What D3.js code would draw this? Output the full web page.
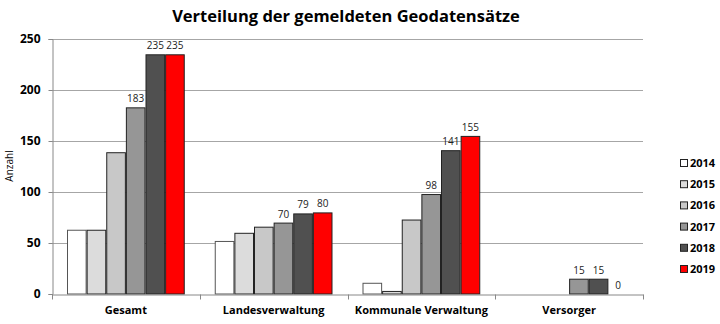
<!DOCTYPE html>
<html><head><meta charset="utf-8">
<script src="https://cdn.jsdelivr.net/npm/d3@7"></script>
<style>body{margin:0;background:#fff}svg{display:block}</style>
</head><body><svg id="c" width="720" height="324"></svg>
<script>
const categories = ["Gesamt", "Landesverwaltung", "Kommunale Verwaltung", "Versorger"];
const years = ["2014", "2015", "2016", "2017", "2018", "2019"];
const v2014 = [63, 52, 11, 0];
const v2015 = [63, 60, 3, 0];
const v2016 = [139, 66, 73, 0];
const v2017 = [183, 70, 98, 15];
const v2018 = [235, 79, 141, 15];
const v2019 = [235, 80, 155, 0];
const yTicks = [0, 50, 100, 150, 200, 250];
const labeledYears = ["2017", "2018", "2019"];
const colors = ["#ffffff", "#dcdcdc", "#c8c8c8", "#969696", "#505050", "#ff0000"];

const series = [v2014, v2015, v2016, v2017, v2018, v2019];
const svg = d3.select("#c");
const font = "'Open Sans', 'Noto Sans', sans-serif";
const m = {l: 52, r: 643, t: 39, b: 294};

const x0 = d3.scaleBand().domain(categories).range([m.l, m.r]).paddingInner(0).paddingOuter(0);
const x1 = d3.scaleBand().domain(years).range([15, x0.bandwidth() - 15]).padding(0);
const y = d3.scaleLinear().domain([0, 250]).range([m.b, m.t]);

// gridlines
svg.append("g").selectAll("line").data(yTicks.filter(d => d > 0)).join("line")
  .attr("x1", m.l).attr("x2", m.r).attr("y1", d => y(d) + 0.5).attr("y2", d => y(d) + 0.5)
  .attr("stroke", "#a6a6a6").attr("stroke-width", 1);

// title
svg.append("text").attr("x", 346).attr("y", 22).attr("text-anchor", "middle")
  .attr("font-family", font).attr("font-weight", "bold").attr("font-size", 16.5)
  .attr("fill", "#000").text("Verteilung der gemeldeten Geodatensätze");

// bars
const g = svg.append("g");
categories.forEach((c, ci) => {
  years.forEach((yr, si) => {
    const v = series[si][ci];
    const bx = x0(c) + x1(yr);
    if (v > 0) {
      g.append("rect").attr("x", bx + 0.5).attr("y", y(v) + 0.5)
        .attr("width", x1.bandwidth() - 1).attr("height", y(0) - y(v) - 0.5)
        .attr("fill", colors[si]).attr("stroke", si === 0 ? "#555" : "#222").attr("stroke-width", 1);
    }
    if (labeledYears.includes(yr)) {
      g.append("text").attr("x", bx + x1.bandwidth() / 2).attr("y", y(v) - 5)
        .attr("text-anchor", "middle").attr("font-family", font).attr("font-size", 10)
        .attr("fill", "#222").text(v);
    }
  });
});

// y axis
const yAxis = d3.axisLeft(y).tickValues(yTicks).tickSize(4).tickPadding(8);
const ya = svg.append("g").attr("transform", `translate(${m.l + 0.5},0)`).call(yAxis);
ya.select(".domain").attr("stroke", "#888");
ya.selectAll(".tick line").attr("stroke", "#888");
ya.selectAll(".tick text").attr("font-family", font).attr("font-weight", "bold")
  .attr("font-size", 12).attr("fill", "#000");

// x axis
const xa = svg.append("g").attr("transform", `translate(0,${m.b + 0.5})`)
  .call(d3.axisBottom(x0).tickSize(0).tickPadding(12));
xa.select(".domain").attr("stroke", "#888");
xa.selectAll(".tick text").attr("font-family", font).attr("font-weight", "bold")
  .attr("font-size", 11).attr("fill", "#000");
const bounds = categories.map(c => x0(c)).concat([x0(categories[categories.length - 1]) + x0.bandwidth()]);
xa.append("g").selectAll("line").data(bounds).join("line")
  .attr("x1", d => Math.round(d) + 0.5).attr("x2", d => Math.round(d) + 0.5)
  .attr("y1", 0).attr("y2", 5).attr("stroke", "#888");

// y title
svg.append("text").attr("transform", "translate(13,166) rotate(-90)").attr("text-anchor", "middle")
  .attr("font-family", font).attr("font-size", 10).attr("fill", "#000").text("Anzahl");

// legend
const lg = svg.append("g");
years.forEach((yr, i) => {
  const ly = 163 + i * 21.2;
  lg.append("rect").attr("x", 680.5).attr("y", ly - 3.5).attr("width", 7).attr("height", 7)
    .attr("fill", colors[i]).attr("stroke", "#222").attr("stroke-width", 1);
  lg.append("text").attr("x", 690).attr("y", ly + 4).attr("font-family", font)
    .attr("font-weight", "bold").attr("font-size", 11).attr("fill", "#000").text(yr);
});
</script></body></html>
